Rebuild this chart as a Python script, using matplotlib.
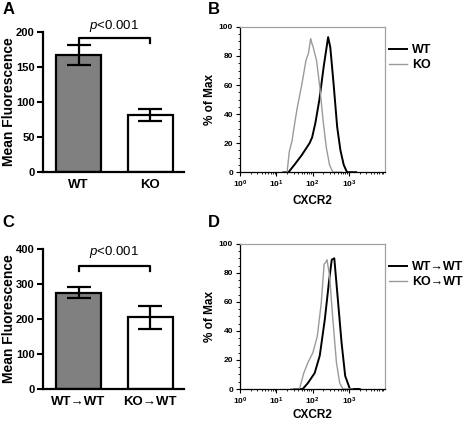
import numpy as np
import matplotlib
matplotlib.use("Agg")
from matplotlib import pyplot as plt
from matplotlib.ticker import MultipleLocator, LogLocator, NullFormatter

plt.rcParams["font.family"] = ["Liberation Sans", "DejaVu Sans"]
plt.rcParams["font.weight"] = "bold"
plt.rcParams["mathtext.fontset"] = "custom"
plt.rcParams["mathtext.rm"] = "Liberation Sans:weight=normal"
plt.rcParams["mathtext.it"] = "Liberation Sans:style=italic:weight=normal"
plt.rcParams["mathtext.bf"] = "Liberation Sans:weight=bold"

# bar panels
groups_a = ["WT", "KO"]
means_a = [167, 82]
errs_a = [14.5, 8.5]
groups_c = ["WT\u2192WT", "KO\u2192WT"]
means_c = [275, 205]
errs_c = [16, 33]
bar_colors = ["#808080", "white"]
pval = "<0.001"

# histograms (log10 of CXCR2 intensity, % of max)
b_wt_x = [1.20, 1.34, 1.53, 1.71, 1.92, 1.99, 2.08, 2.19, 2.31, 2.43, 2.49, 2.58, 2.68, 2.77, 2.86, 2.95, 3.2]
b_wt_y = [0, 0, 6, 12, 20, 24, 34, 50, 73, 93, 86, 61, 31, 15, 5, 0, 0]
b_ko_x = [1.20, 1.30, 1.36, 1.44, 1.48, 1.57, 1.71, 1.82, 1.89, 1.95, 1.98, 2.02, 2.11, 2.20, 2.29, 2.38, 2.47, 2.56, 2.8]
b_ko_y = [0, 0, 14, 22, 29, 43, 61, 77, 82, 92, 89, 86, 77, 59, 36, 17, 5, 0, 0]
d_wt_x = [1.5, 1.73, 1.87, 2.06, 2.20, 2.34, 2.45, 2.53, 2.60, 2.69, 2.80, 2.90, 3.03, 3.3]
d_wt_y = [0, 0, 4, 11, 23, 48, 73, 89, 90, 64, 32, 9, 0, 0]
d_ko_x = [1.4, 1.64, 1.76, 1.87, 2.01, 2.13, 2.24, 2.32, 2.36, 2.40, 2.47, 2.56, 2.66, 2.75, 2.84, 3.1]
d_ko_y = [0, 0, 11, 18, 25, 36, 59, 86, 87, 89, 78, 48, 18, 4, 0, 0]
hist_ticks = ["$\\mathbf{10^{0}}$", "$\\mathbf{10^{1}}$", "$\\mathbf{10^{2}}$", "$\\mathbf{10^{3}}$"]

fig = plt.figure(figsize=(4.64, 4.21), dpi=100)


def barPanel(rect, groups, means, errs, ymax, ystep, brk_y, txt_y):
    ax = fig.add_axes(rect)
    x = np.arange(len(groups))
    ax.bar(x, means, width=0.63, color=bar_colors, edgecolor="black", linewidth=1.6, zorder=2)
    ax.errorbar(x, means, yerr=errs, fmt="none", ecolor="black", elinewidth=1.6,
                capsize=8.6, capthick=1.6, zorder=3)
    ax.set_xlim(-0.497, 1.476)
    ax.set_ylim(0, ymax)
    ax.yaxis.set_major_locator(MultipleLocator(ystep))
    ax.set_xticks(x)
    ax.set_xticklabels(groups, fontsize=9.5, fontweight="bold")
    ax.tick_params(axis="y", labelsize=8, width=1.5, length=4, pad=2)
    ax.tick_params(axis="x", length=0, pad=5)
    for s in ["top", "right"]:
        ax.spines[s].set_visible(False)
    for s in ["left", "bottom"]:
        ax.spines[s].set_linewidth(1.6)
    ax.set_ylabel("Mean Fluorescence", fontsize=10, fontweight="bold")
    ax.yaxis.set_label_coords(-0.19, 0.5)
    tick = ymax * 0.035
    ax.plot([x[0], x[0], x[1], x[1]], [brk_y - tick, brk_y, brk_y, brk_y - tick],
            color="black", lw=1.6, clip_on=False)
    ax.text(x.mean(), txt_y, "$\\mathit{p}$" + pval, ha="center", va="center",
            fontsize=9.5, fontweight="normal", clip_on=False)
    return ax


def histPanel(rect, xs_list, ys_list, labels, xpad):
    ax = fig.add_axes(rect)
    ax.plot(10 ** np.array(xs_list[0]), ys_list[0], color="black", lw=1.4, label=labels[0])
    ax.plot(10 ** np.array(xs_list[1]), ys_list[1], color="#9a9a9a", lw=1.0, label=labels[1])
    ax.set_xscale("log")
    ax.set_xlim(1, 1e4)
    ax.set_ylim(0, 100)
    ax.set_xticks([1, 10, 100, 1000])
    ax.set_xticklabels(hist_ticks, fontsize=6)
    ax.xaxis.set_minor_locator(LogLocator(base=10, subs=np.arange(2, 10)))
    ax.xaxis.set_minor_formatter(NullFormatter())
    ax.yaxis.set_major_locator(MultipleLocator(20))
    ax.yaxis.set_minor_locator(MultipleLocator(5))
    ax.tick_params(axis="both", which="major", labelsize=6, length=3, width=0.8, pad=2)
    ax.tick_params(axis="both", which="minor", length=1.5, width=0.6)
    for s in ["top", "right"]:
        ax.spines[s].set_color("#a0a0a0")
        ax.spines[s].set_linewidth(0.9)
    for s in ["left", "bottom"]:
        ax.spines[s].set_linewidth(0.9)
    ax.set_ylabel("% of Max", fontsize=8.5, fontweight="bold", labelpad=2)
    ax.set_xlabel("CXCR2", fontsize=8.5, fontweight="bold", labelpad=xpad)
    ax.legend(loc="upper left", bbox_to_anchor=(1.03, 0.88), frameon=False,
              handlelength=1.4, handletextpad=0.4, labelspacing=0.25, borderpad=0,
              borderaxespad=0, prop={"weight": "bold", "size": 9})
    return ax


barPanel([0.0927, 0.5914, 0.304, 0.3326], groups_a, means_a, errs_a, 200, 50, 191, 208)
barPanel([0.0927, 0.076, 0.304, 0.3326], groups_c, means_c, errs_c, 400, 100, 351, 390)
histPanel([0.517, 0.591, 0.313, 0.345], [b_wt_x, b_ko_x], [b_wt_y, b_ko_y], ["WT", "KO"], 3)
histPanel([0.517, 0.076, 0.313, 0.345], [d_wt_x, d_ko_x], [d_wt_y, d_ko_y],
          ["WT\u2192WT", "KO\u2192WT"], 1.5)

for lab, (x, y) in zip("ABCD", [(0.005, 0.995), (0.447, 0.995), (0.005, 0.49), (0.447, 0.49)]):
    fig.text(x, y, lab, fontsize=12, fontweight="bold", ha="left", va="top")

fig.savefig("out.png", dpi=100)
